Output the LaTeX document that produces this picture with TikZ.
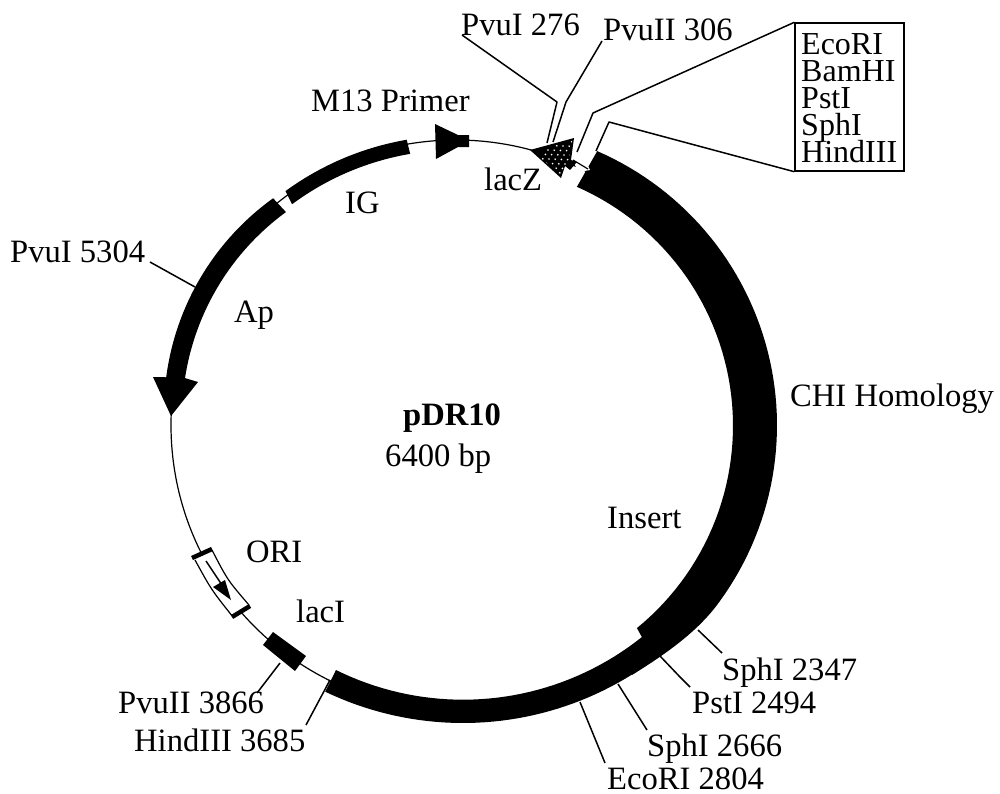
\documentclass[tikz,border=0pt]{standalone}
\usepackage{fontspec}
\setmainfont{Liberation Serif}
\tikzset{
  lab/.style={anchor=base west,inner sep=0pt,font=\fontsize{32.6}{36}\selectfont},
  conn/.style={draw=black,line width=1.5pt,line join=round},
  thinline/.style={draw=black,line width=1.2pt},
  feature/.style={fill=black,draw=none},
  sitesbox/.style={draw=black,line width=1.4pt,minimum width=109pt,minimum height=148pt,inner sep=0pt}
}
\begin{document}
\begin{tikzpicture}[x=1pt,y=-1pt]
\useasboundingbox (0,0) rectangle (1000,793);
% backbone
\coordinate (ctr) at (456,425);
\draw[thinline] (ctr) circle[radius=285pt];
% Insert
\fill[feature]
  plot[domain=-66.5:36,samples=60] ({478+299*cos(\x)},{425.3+299*sin(\x)})
  .. controls (698,632) and (664,655) .. (632,675)
  -- plot[domain=58:115.6,samples=40] ({463+319*cos(\x)},{404+319*sin(\x)})
  -- plot[domain=116.3:51.4,samples=40] ({463+286.7*cos(\x)},{413+286.7*sin(\x)})
  -- plot[domain=50.8:-66.3,samples=60] ({472+261*cos(\x)},{425.8+261*sin(\x)})
  -- cycle;
% Ap
\fill[feature]
  plot[domain=234.3:187.4,samples=30] ({426+262*cos(\x)},{411+262*sin(\x)})
  -- (153,377) -- (171,416) -- (198,382)
  -- plot[domain=188.7:233.9,samples=30] ({434.9+252.8*cos(\x)},{416.3+252.8*sin(\x)})
  -- cycle;
% IG
\fill[feature]
  plot[domain=233.9:260.2,samples=20] ({456+289.5*cos(\x)},{425+289.5*sin(\x)})
  -- plot[domain=260.4:233.4,samples=20] ({456+275*cos(\x)},{425+275*sin(\x)})
  -- cycle;
% M13 primer
\fill[feature] (435,124) -- (458,135) -- (469,135) -- (469,147) -- (458,147) -- (436,159) -- cycle;
% lacZ
\fill[white] (572,158) -- (580,150) -- (590,170) -- (578,172) -- cycle;
\draw[thinline] (573,160) -- (588,169);
\fill[feature] (530,150) -- (574,138) -- (571,160) -- (577,162) -- (570,170) -- (565,166) -- (561,178) -- cycle;
\begin{scope}
\clip (533,151) -- (572,141) -- (569,160) -- (563,172) -- (560,175) -- cycle;
\foreach \i in {0,...,6}{\foreach \j in {0,...,9}{
  \fill[white] ({535+\i*6.2+\j*2.6},{172-\j*4.4+\i*0.2}) circle[radius=0.95pt];}}
\end{scope}
% ORI
\fill[white] (195,560) .. controls (211.5,590) .. (233,617) -- (249,605) .. controls (227.5,580) .. (212,550) -- cycle;
\draw[line width=1.2pt] (195,560) .. controls (211.5,590) .. (233,617);
\draw[line width=1.2pt] (212,550) .. controls (227.5,580) .. (249,605);
\draw[line width=4.5pt] (192,558) -- (212,549);
\draw[line width=4.5pt] (232,617) -- (250,606);
\draw[line width=1.4pt] (206,561) -- (222,585);
\fill[feature] (213,587) -- (225,580) -- (231,600) -- cycle;
% lacI
\fill[feature] (263,645) -- (273,632) -- (306,656) -- (295,671) -- cycle;
% labels
\node[lab] (l276) at (461,35) {PvuI 276};
\node[lab] (l306) at (603,40) {PvuII 306};
\node[lab] (m13) at (311,111) {M13 Primer};
\node[lab] (lacz) at (484,190) {lacZ};
\node[lab] (ig) at (345,213) {IG};
\node[lab] (l5304) at (10,262) {PvuI 5304};
\node[lab] (ap) at (234,322) {Ap};
\node[lab,font=\fontsize{32.6}{36}\selectfont\bfseries] (name) at (403,425) {pDR10};
\node[lab] (size) at (385,466) {6400 bp};
\node[lab] (chi) at (790,406) {CHI Homology};
\node[lab] (insert) at (607,528) {Insert};
\node[lab] (ori) at (246,562) {ORI};
\node[lab] (laci) at (296,622) {lacI};
\node[lab] (l3866) at (118,713) {PvuII 3866};
\node[lab] (l3685) at (134,751) {HindIII 3685};
\node[lab] (l2347) at (722,680) {SphI 2347};
\node[lab] (l2494) at (692,713) {PstI 2494};
\node[lab] (l2666) at (647,756) {SphI 2666};
\node[lab] (l2804) at (607,789) {EcoRI 2804};
% sites box
\node[sitesbox] (box) at (849.5,97) {};
\node[lab,font=\fontsize{32}{36}\selectfont] (s1) at (801,54) {EcoRI};
\node[lab,font=\fontsize{32}{36}\selectfont] (s2) at (801,81) {BamHI};
\node[lab,font=\fontsize{32}{36}\selectfont] (s3) at (801,108) {PstI};
\node[lab,font=\fontsize{32}{36}\selectfont] (s4) at (801,135) {SphI};
\node[lab,font=\fontsize{32}{36}\selectfont] (s5) at (801,162) {HindIII};
% connector ends
\coordinate (a1) at (462,35); \coordinate (a2) at (557,102); \coordinate (a3) at (547,143);
\coordinate (b1) at (602,41); \coordinate (b2) at (566,102); \coordinate (b3) at (553,142);
\coordinate (c2) at (593,113); \coordinate (c3) at (577,152);
\coordinate (d2) at (609,122); \coordinate (d3) at (596,151);
\coordinate (e1) at (150,262); \coordinate (e2) at (195,287);
\coordinate (f1) at (257,693); \coordinate (f2) at (280,663);
\coordinate (g1) at (306,725); \coordinate (g2) at (330,680);
\coordinate (h1) at (722,653); \coordinate (h2) at (698,630);
\coordinate (i1) at (690,687); \coordinate (i2) at (680,677); \coordinate (i3) at (660,656);
\coordinate (j1) at (647,730); \coordinate (j2) at (618,684);
\coordinate (k1) at (605,763); \coordinate (k2) at (580,702);
\draw[conn] (a1) -- (a2) -- (a3);
\draw[conn] (b1) -- (b2) -- (b3);
\draw[conn] (box.north west) -- (c2) -- (c3);
\draw[conn] (box.south west) -- (d2) -- (d3);
\draw[conn] (e1) -- (e2);
\draw[conn] (f1) -- (f2);
\draw[conn] (g1) -- (g2);
\draw[conn] (h1) -- (h2);
\draw[conn] (i1) -- (i2) -- (i3);
\draw[conn] (j1) -- (j2);
\draw[conn] (k1) -- (k2);
\end{tikzpicture}
\end{document}
